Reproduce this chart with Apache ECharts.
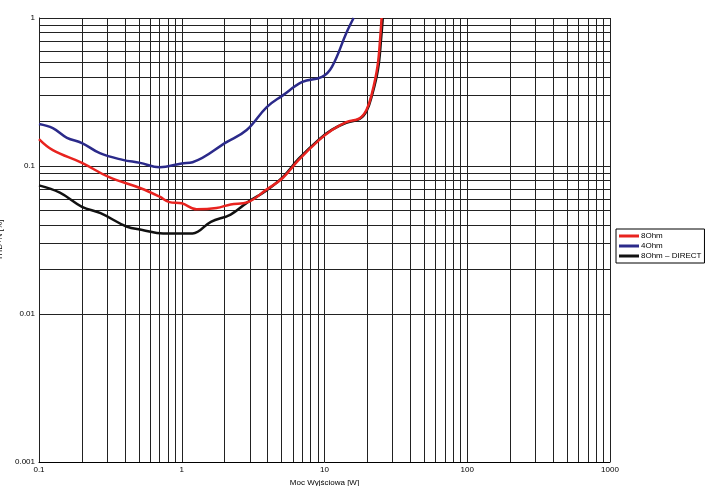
<!DOCTYPE html>
<html>
<head>
<meta charset="utf-8">
<script src="https://cdn.jsdelivr.net/npm/echarts@6/dist/echarts.min.js"></script>
<style>
  html, body { margin: 0; padding: 0; background: #fff; }
  #chart { width: 705px; height: 486px; }
</style>
</head>
<body>
<div id="chart"></div>
<script>
const ohm8 = [
  [0.1, 0.152], [0.125, 0.128], [0.2, 0.105], [0.31, 0.084], [0.51, 0.071], [0.7, 0.062],
  [0.82, 0.057], [1.0, 0.056], [1.27, 0.051], [1.75, 0.052], [2.2, 0.055], [2.9, 0.057],
  [3.9, 0.069], [5.1, 0.083], [6.6, 0.11], [9.2, 0.15], [11.3, 0.175], [14.2, 0.198],
  [17.6, 0.21], [19.7, 0.24], [21.5, 0.31], [23.5, 0.47], [24.6, 0.75], [25.1, 1.0]
]
const ohm4 = [
  [0.1, 0.192], [0.125, 0.18], [0.157, 0.155], [0.2, 0.143], [0.267, 0.122], [0.386, 0.11],
  [0.51, 0.105], [0.7, 0.098], [1.0, 0.104], [1.19, 0.106], [2.06, 0.145], [2.85, 0.175],
  [3.94, 0.25], [5.1, 0.3], [7.0, 0.37], [9.6, 0.4], [11.3, 0.47], [14.2, 0.79], [16.0, 1.0]
]
const ohm8direct = [
  [0.1, 0.074], [0.14, 0.066], [0.2, 0.053], [0.27, 0.048], [0.41, 0.039], [0.53, 0.037],
  [0.74, 0.035], [1.0, 0.035], [1.19, 0.035], [1.6, 0.042], [2.2, 0.047], [2.9, 0.057],
  [3.9, 0.068], [5.1, 0.084], [6.6, 0.112], [9.2, 0.152], [11.3, 0.176], [14.2, 0.196],
  [17.6, 0.208], [19.7, 0.235], [21.5, 0.3], [23.7, 0.45], [25.0, 0.75], [25.6, 1.0]
]
const xDecades = [0.1, 1, 10, 100]
const yDecades = [0.001, 0.01, 0.1]
const steps = [1, 2, 3, 4, 5, 6, 7, 8, 9]

const gridLines = []
xDecades.forEach(d => steps.forEach(s => gridLines.push({ xAxis: +(d * s).toPrecision(3) })))
gridLines.push({ xAxis: 1000 })
yDecades.forEach(d => steps.forEach(s => gridLines.push({ yAxis: +(d * s).toPrecision(3) })))
gridLines.push({ yAxis: 1 })

function curve(name, data, color, z) {
  return {
    name: name, type: 'line', data: data, smooth: 0.4, showSymbol: false,
    lineStyle: { color: color, width: 2.5 }, itemStyle: { color: color }, z: z
  }
}

const labelFmt = v => String(+v.toPrecision(3))

const chart = echarts.init(document.getElementById('chart'))
chart.setOption({
  animation: false,
  grid: { left: 39, right: 95, top: 18, bottom: 24, containLabel: false, outerBoundsMode: 'none' },
  legend: {
    data: ['8Ohm', '4Ohm', '8Ohm – DIRECT'],
    orient: 'vertical', left: 616, top: 229,
    itemWidth: 20, itemHeight: 3, itemGap: 2, padding: [3, 3],
    borderColor: '#000', borderWidth: 1,
    icon: 'rect',
    textStyle: { fontFamily: 'Liberation Sans', fontSize: 8, color: '#000', padding: [0, 0, 0, -3] }
  },
  xAxis: {
    type: 'log', min: 0.1, max: 1000, logBase: 10,
    name: 'Moc Wyjściowa [W]', nameLocation: 'middle', nameGap: 13,
    nameTextStyle: { fontFamily: 'Liberation Sans', fontSize: 8, color: '#000' },
    axisLine: { lineStyle: { color: '#000' } },
    axisTick: { show: false }, splitLine: { show: false },
    axisLabel: { fontFamily: 'Liberation Sans', fontSize: 8, color: '#000', margin: 4, formatter: labelFmt }
  },
  yAxis: {
    type: 'log', min: 0.001, max: 1, logBase: 10,
    name: 'THD+N [%]', nameLocation: 'middle', nameGap: 22,
    nameTextStyle: { fontFamily: 'Liberation Sans', fontSize: 8, color: '#000' },
    axisLine: { lineStyle: { color: '#000' } },
    axisTick: { show: false }, splitLine: { show: false },
    axisLabel: { fontFamily: 'Liberation Sans', fontSize: 8, color: '#000', margin: 4, formatter: labelFmt }
  },
  series: [
    {
      name: 'grid', type: 'line', data: [], silent: true,
      markLine: {
        silent: true, symbol: 'none', label: { show: false }, animation: false,
        lineStyle: { color: '#222', width: 1, type: 'solid' },
        data: gridLines
      }
    },
    curve('8Ohm', ohm8, '#e8231f', 7),
    curve('4Ohm', ohm4, '#2b2a8a', 6),
    curve('8Ohm – DIRECT', ohm8direct, '#111', 5)
  ]
})
</script>
</body>
</html>
